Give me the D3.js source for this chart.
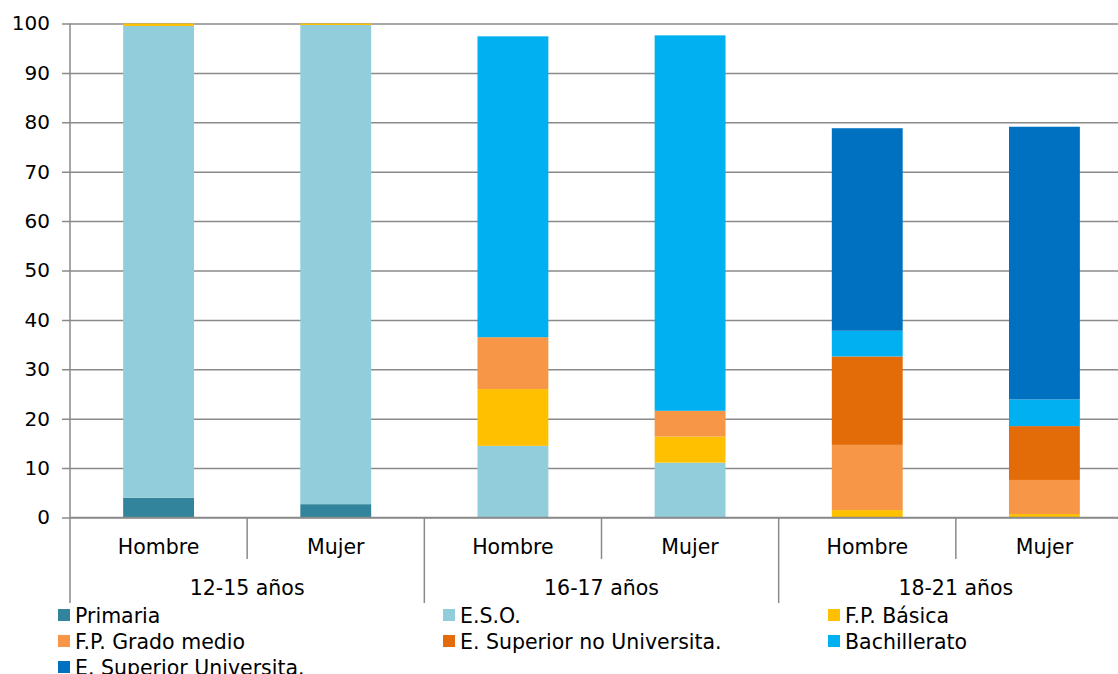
<!DOCTYPE html>
<html>
<head>
<meta charset="utf-8">
<script src="https://cdn.jsdelivr.net/npm/d3@7"></script>
<style>
  body { margin: 0; background: #fff; }
  svg { display: block; font-family: "DejaVu Sans", Verdana, sans-serif; }
</style>
</head>
<body>
<div id="chart"></div>
<script>
'use strict';

// categories
var groups = ["12-15 años", "16-17 años", "18-21 años"];
var sexes = ["Hombre", "Mujer"];
var yTicks = [0, 10, 20, 30, 40, 50, 60, 70, 80, 90, 100];

// series (one value per bar: 12-15 H, 12-15 M, 16-17 H, 16-17 M, 18-21 H, 18-21 M)
var seriesNames = ["Primaria", "E.S.O.", "F.P. Básica", "F.P. Grado medio",
  "E. Superior no Universita.", "Bachillerato", "E. Superior Universita."];
var primaria   = [4.0, 2.7, 0, 0, 0, 0];
var eso        = [95.5, 97.0, 14.5, 11.1, 0, 0];
var fpBasica   = [0.5, 0.3, 11.5, 5.3, 1.5, 0.7];
var fpMedio    = [0, 0, 10.5, 5.2, 13.2, 6.9];
var supNoUniv  = [0, 0, 0, 0, 17.9, 10.9];
var bachiller  = [0, 0, 60.9, 76.0, 5.2, 5.4];
var supUniv    = [0, 0, 0, 0, 41.0, 55.2];

var colors = ["#31849b", "#92cddc", "#ffc000", "#f79646", "#e36c09", "#00b0f0", "#0070c0"];

var W = 1118, H = 674;
var margin = {left: 70, top: 23.5, bottom: 517.5, right: 1133};

// build rows for the stack
var allSeries = [primaria, eso, fpBasica, fpMedio, supNoUniv, bachiller, supUniv];
var rows = [];
groups.forEach(function(g, gi) {
  sexes.forEach(function(s, si) {
    var i = gi * 2 + si;
    var r = {id: g + "|" + s, group: g, sex: s};
    seriesNames.forEach(function(n, k) { r[n] = allSeries[k][i]; });
    rows.push(r);
  });
});

var stacked = d3.stack().keys(seriesNames)(rows);

var x = d3.scaleBand()
  .domain(rows.map(function(d) { return d.id; }))
  .range([margin.left, margin.right])
  .paddingInner(0.6)
  .paddingOuter(0.3);

var y = d3.scaleLinear().domain([0, 100]).range([margin.bottom, margin.top]);

var color = d3.scaleOrdinal().domain(seriesNames).range(colors);

var svg = d3.select("#chart").append("svg")
  .attr("width", W)
  .attr("height", H);

// gridlines + y axis
var yAxis = svg.append("g")
  .attr("transform", "translate(" + margin.left + ",0)")
  .call(d3.axisLeft(y).tickValues(yTicks).tickSize(-(W - margin.left)).tickSizeOuter(0).tickPadding(20));
yAxis.select(".domain").remove();
yAxis.selectAll(".tick line")
  .attr("x1", -8)
  .attr("stroke", "#8a8a8a")
  .attr("stroke-width", 1.5);
yAxis.selectAll(".tick text")
  .attr("font-size", 20)
  .attr("fill", "#000")
  .attr("font-family", "DejaVu Sans, Verdana, sans-serif");

// bars
svg.append("g")
  .selectAll("g")
  .data(stacked)
  .join("g")
    .attr("fill", function(d) { return color(d.key); })
  .selectAll("rect")
  .data(function(d) { return d; })
  .join("rect")
    .attr("x", function(d) { return x(d.data.id); })
    .attr("y", function(d) { return y(d[1]); })
    .attr("width", x.bandwidth())
    .attr("height", function(d) { return Math.max(0, y(d[0]) - y(d[1])); });

// x axis line and dividers
var axisCol = "#8a8a8a";
var step = x.step();
svg.append("line")
  .attr("x1", margin.left).attr("x2", W)
  .attr("y1", y(0)).attr("y2", y(0))
  .attr("stroke", axisCol).attr("stroke-width", 1.5);
svg.append("line")
  .attr("x1", margin.left).attr("x2", margin.left)
  .attr("y1", y(100)).attr("y2", 603)
  .attr("stroke", axisCol).attr("stroke-width", 1.5);

rows.forEach(function(d, i) {
  if (i === 0) return;
  var xx = margin.left + i * step;
  svg.append("line")
    .attr("x1", xx).attr("x2", xx)
    .attr("y1", y(0)).attr("y2", i % 2 === 0 ? 603 : 559)
    .attr("stroke", axisCol).attr("stroke-width", 1.5);
});

// category labels
svg.append("g")
  .selectAll("text")
  .data(rows)
  .join("text")
    .attr("x", function(d) { return x(d.id) + x.bandwidth() / 2; })
    .attr("y", 554)
    .attr("text-anchor", "middle")
    .attr("font-size", 20.5)
    .text(function(d) { return d.sex; });

svg.append("g")
  .selectAll("text")
  .data(groups)
  .join("text")
    .attr("x", function(d, i) { return margin.left + (i * 2 + 1) * step; })
    .attr("y", 595)
    .attr("text-anchor", "middle")
    .attr("font-size", 20.5)
    .text(function(d) { return d; });

// legend
var legend = svg.append("g")
  .selectAll("g")
  .data(seriesNames)
  .join("g")
    .attr("transform", function(d, i) {
      return "translate(" + (58 + (i % 3) * 385) + "," + (615 + Math.floor(i / 3) * 26) + ")";
    });
legend.append("rect")
  .attr("x", 0).attr("y", -6)
  .attr("width", 12).attr("height", 12)
  .attr("fill", function(d) { return color(d); });
legend.append("text")
  .attr("x", 17)
  .attr("y", 7.5)
  .attr("font-size", 20.5)
  .text(function(d) { return d; });
</script>
</body>
</html>
